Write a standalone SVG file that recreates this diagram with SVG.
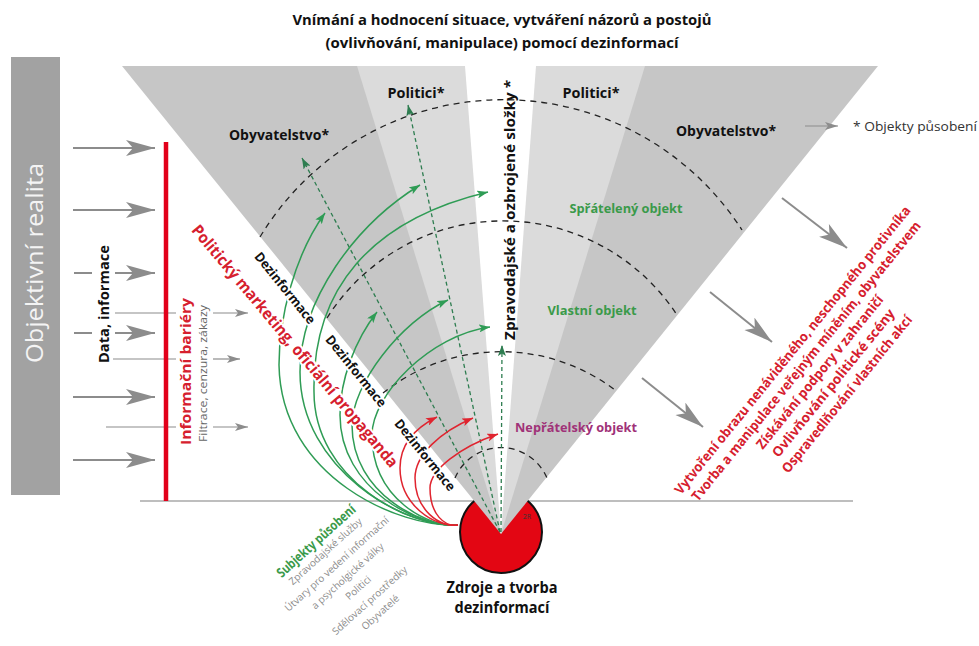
<svg xmlns="http://www.w3.org/2000/svg" width="979" height="646" viewBox="0 0 979 646">
<defs>
<style>
text{font-family:"Open Sans","Liberation Sans",sans-serif}
.b{font-weight:700}
.arc{fill:none;stroke:#222;stroke-width:1.3;stroke-dasharray:6 5}
.gd{fill:none;stroke:#2e7d50;stroke-width:1.3;stroke-dasharray:4 3}
.gc{fill:none;stroke:#2f9c55;stroke-width:1.5}
.rc{fill:none;stroke:#e0242f;stroke-width:1.5}
.ga{stroke:#8c8c8c;stroke-width:2;fill:none}
.gt{stroke:#8c8c8c;stroke-width:1.2;fill:none}
.halo{stroke:#fff;stroke-width:4;stroke-linejoin:round;paint-order:stroke}
.red{fill:#d6202e}
.grn{fill:#3a9a4a}
</style>
<marker id="mG" markerUnits="userSpaceOnUse" markerWidth="12" markerHeight="8" refX="11" refY="4" orient="auto"><path d="M0,0 L11,4 L0,8 L2.5,4 z" fill="#2f9c55"/></marker>
<marker id="mD" markerUnits="userSpaceOnUse" markerWidth="12" markerHeight="8" refX="11" refY="4" orient="auto"><path d="M0,0 L11,4 L0,8 L2.5,4 z" fill="#2e7d50"/></marker>
<marker id="mR" markerUnits="userSpaceOnUse" markerWidth="12" markerHeight="8" refX="11" refY="4" orient="auto"><path d="M0,0 L11,4 L0,8 L2.5,4 z" fill="#e0242f"/></marker>
<marker id="mB" markerUnits="userSpaceOnUse" markerWidth="30" markerHeight="18" refX="29" refY="8" orient="auto"><path d="M0,0 L29,8 L0,16 L7,8 z" fill="#8c8c8c"/></marker>
<marker id="mS" markerUnits="userSpaceOnUse" markerWidth="14" markerHeight="9" refX="13" refY="4" orient="auto"><path d="M0,0 L13,4 L0,8 L3,4 z" fill="#8c8c8c"/></marker>
</defs>
<rect width="979" height="646" fill="#fff"/>

<g id="title" class="b" font-size="15" fill="#111" text-anchor="middle">
<text x="502" y="25" textLength="419" lengthAdjust="spacingAndGlyphs">Vnímání a hodnocení situace, vytváření názorů a postojů</text>
<text x="502" y="48" textLength="353" lengthAdjust="spacingAndGlyphs">(ovlivňování, manipulace) pomocí dezinformací</text>
</g>

<g id="objektivni-realita">
<rect x="11" y="57" width="49" height="438" fill="#a2a2a2"/>
<text transform="translate(43,363) rotate(-90)" font-size="23" fill="#f4f4f4" textLength="200" lengthAdjust="spacingAndGlyphs">Objektivní realita</text>
</g>

<g id="baseline"><line x1="140" y1="501" x2="853" y2="501" stroke="#a8a8a8" stroke-width="1.5"/></g>

<g id="zdroje">
<circle cx="501" cy="532" r="41" fill="#e30613" stroke="#111" stroke-width="2"/>
</g>

<g id="fan">
<polygon points="122,66 878,66 501,534" fill="#c6c6c6"/>
<polygon points="357,66 645,66 501,534" fill="#dbdbdb"/>
<polygon points="465,66 536,66 501,534" fill="#ffffff"/>
<path class="arc" d="M260,237 A284,284 0 0 1 742,230"/>
<path class="arc" d="M327,318 A208,208 0 0 1 677,315"/>
<path class="arc" d="M383,393 A189,189 0 0 1 615,390"/>
<path class="arc" d="M455,478 A50,50 0 0 1 547,478"/>
</g>

<g id="connectors">
<!-- left gray arrows -->
<line class="ga" x1="73" y1="148" x2="155" y2="148" marker-end="url(#mB)"/>
<line class="ga" x1="73" y1="210" x2="155" y2="210" marker-end="url(#mB)"/>
<line class="ga" x1="74" y1="273" x2="92" y2="273"/>
<line class="ga" x1="115" y1="273" x2="155" y2="273" marker-end="url(#mB)"/>
<line class="ga" x1="74" y1="333" x2="92" y2="333"/>
<line class="ga" x1="115" y1="333" x2="155" y2="333" marker-end="url(#mB)"/>
<line class="ga" x1="73" y1="397" x2="155" y2="397" marker-end="url(#mB)"/>
<line class="ga" x1="73" y1="460" x2="155" y2="460" marker-end="url(#mB)"/>
<line class="gt" x1="115" y1="313" x2="176" y2="313"/>
<line class="gt" x1="213" y1="313" x2="248" y2="313" marker-end="url(#mS)"/>
<line class="gt" x1="113" y1="359" x2="176" y2="359"/>
<line class="gt" x1="213" y1="359" x2="240" y2="359" marker-end="url(#mS)"/>
<line class="gt" x1="106" y1="427" x2="176" y2="427"/>
<line class="gt" x1="213" y1="427" x2="248" y2="427" marker-end="url(#mS)"/>
<!-- right gray arrows -->
<line class="ga" stroke-width="2.5" x1="782" y1="198" x2="847" y2="248" marker-end="url(#mB)"/>
<line class="ga" stroke-width="2.5" x1="710" y1="292" x2="772" y2="342" marker-end="url(#mB)"/>
<line class="ga" stroke-width="2.5" x1="642" y1="378" x2="703" y2="427" marker-end="url(#mB)"/>
<line class="gt" x1="805" y1="126" x2="838" y2="126" marker-end="url(#mS)"/>
<!-- green dashed rays -->
<line class="gd" x1="500" y1="532" x2="302" y2="158" marker-end="url(#mD)"/>
<line class="gd" x1="500" y1="532" x2="408" y2="105" marker-end="url(#mD)"/>
<line class="gd" x1="501" y1="532" x2="502" y2="345" marker-end="url(#mD)"/>
<!-- green curves -->
<path class="gc" d="M458,525 C400,528 281,478 279,365 C279,318 294,256 325,213" marker-end="url(#mG)"/>
<path class="gc" d="M458,525 C405,528 300,470 300,372 C300,300 355,225 420,185" marker-end="url(#mG)"/>
<path class="gc" d="M458,525 C410,528 314,480 314,392 C312,290 370,220 488,192" marker-end="url(#mG)"/>
<path class="gc" d="M458,525 C420,528 340,490 340,415 C340,380 355,340 377,312" marker-end="url(#mG)"/>
<path class="gc" d="M458,525 C425,528 352,495 352,425 C352,385 400,322 448,300" marker-end="url(#mG)"/>
<path class="gc" d="M458,525 C430,528 372,500 372,435 C372,395 430,335 490,327" marker-end="url(#mG)"/>
<!-- red curves -->
<path class="rc" d="M458,525 C435,528 400,505 400,468 C400,445 415,428 437,417" marker-end="url(#mR)"/>
<path class="rc" d="M458,525 C440,528 415,510 415,478 C415,455 440,432 473,418" marker-end="url(#mR)"/>
<path class="rc" d="M458,525 C445,527 430,515 430,488 C430,470 460,447 498,434" marker-end="url(#mR)"/>
</g>

<g id="bariery">
<line x1="166" y1="142" x2="166" y2="501" stroke="#e2001a" stroke-width="4.5"/>
<text class="b red" transform="translate(191,445) rotate(-90)" font-size="15" textLength="147" lengthAdjust="spacingAndGlyphs">Informační bariéry</text>
<text transform="translate(207,442) rotate(-90)" font-size="11" fill="#666" textLength="137" lengthAdjust="spacingAndGlyphs">Filtrace, cenzura, zákazy</text>
</g>

<g id="data-informace">
<text class="b" transform="translate(109,363) rotate(-90)" font-size="15" fill="#111" textLength="118" lengthAdjust="spacingAndGlyphs">Data, informace</text>
</g>

<g id="propaganda">
<text class="b red halo" transform="translate(295,346) rotate(50)" font-size="16" text-anchor="middle" dy="0.35em" textLength="311" lengthAdjust="spacingAndGlyphs">Politický marketing, oficiální propaganda</text>
</g>

<g id="dezinformace" class="b" font-size="13" fill="#111" text-anchor="middle">
<text class="halo" transform="translate(285,288) rotate(51)" dy="0.35em" textLength="88" lengthAdjust="spacingAndGlyphs">Dezinformace</text>
<text class="halo" transform="translate(356,371) rotate(51)" dy="0.35em" textLength="88" lengthAdjust="spacingAndGlyphs">Dezinformace</text>
<text class="halo" transform="translate(425,455) rotate(51)" dy="0.35em" textLength="88" lengthAdjust="spacingAndGlyphs">Dezinformace</text>
</g>

<g id="objekty-pusobeni" class="b" font-size="14" fill="#111" text-anchor="middle">
<text x="279" y="140" textLength="100" lengthAdjust="spacingAndGlyphs">Obyvatelstvo*</text>
<text x="726" y="136" textLength="100" lengthAdjust="spacingAndGlyphs">Obyvatelstvo*</text>
<text x="416" y="98" textLength="57" lengthAdjust="spacingAndGlyphs">Politici*</text>
<text x="591" y="98" textLength="57" lengthAdjust="spacingAndGlyphs">Politici*</text>
<text transform="translate(515,340) rotate(-90)" font-size="15" text-anchor="start" textLength="260" lengthAdjust="spacingAndGlyphs">Zpravodajské a ozbrojené složky *</text>
</g>

<g id="legenda">
<text x="853" y="131" font-size="12.5" fill="#333" textLength="124" lengthAdjust="spacingAndGlyphs">* Objekty působení</text>
</g>

<g id="objekty" class="b" font-size="13" text-anchor="middle">
<text class="grn" x="626" y="213" textLength="113" lengthAdjust="spacingAndGlyphs">Spřátelený objekt</text>
<text class="grn" x="592" y="315" textLength="89" lengthAdjust="spacingAndGlyphs">Vlastní objekt</text>
<text x="576" y="432" fill="#a03278" textLength="122" lengthAdjust="spacingAndGlyphs">Nepřátelský objekt</text>
</g>

<g id="cile" class="b red" font-size="13.5" text-anchor="middle" transform="translate(792.5,350) rotate(-51)">
<text x="0" y="0" dy="0.35em" textLength="366" lengthAdjust="spacingAndGlyphs">Vytvoření obrazu nenáviděného, neschopného protivníka</text>
<text x="0" y="17.5" dy="0.35em" textLength="355" lengthAdjust="spacingAndGlyphs">Tvorba a manipulace veřejným míněním, obyvatelstvem</text>
<text x="0" y="35" dy="0.35em" textLength="193" lengthAdjust="spacingAndGlyphs">Získávání podpory v zahraničí</text>
<text x="0" y="52.5" dy="0.35em" textLength="186" lengthAdjust="spacingAndGlyphs">Ovlivňování politické scény</text>
<text x="0" y="70" dy="0.35em" textLength="198" lengthAdjust="spacingAndGlyphs">Ospravedlňování vlastních akcí</text>
</g>

<g id="subjekty" text-anchor="middle" transform="translate(316,541) rotate(-42)">
<text class="b grn" x="0" y="0" dy="0.35em" font-size="13.5" textLength="101" lengthAdjust="spacingAndGlyphs">Subjekty působení</text>
<g font-size="10" fill="#8c8c8c">
<text x="0" y="14" dy="0.35em">Zpravodajské služby</text>
<text x="0" y="31" dy="0.35em">Útvary pro vedení informační</text>
<text x="0" y="47" dy="0.35em">a psycholgické války</text>
<text x="0" y="63" dy="0.35em">Politici</text>
<text x="0" y="80" dy="0.35em">Sdělovací prostředky</text>
<text x="0" y="96" dy="0.35em">Obyvatelé</text>
</g>
</g>

<g id="zdroje-label" class="b" font-size="16" fill="#111" text-anchor="middle">
<text x="502" y="593" textLength="111" lengthAdjust="spacingAndGlyphs">Zdroje a tvorba</text>
<text x="502" y="613" textLength="95" lengthAdjust="spacingAndGlyphs">dezinformací</text>
<text x="527" y="519" font-size="7" font-weight="400" fill="#333">2R</text>
</g>
</svg>
